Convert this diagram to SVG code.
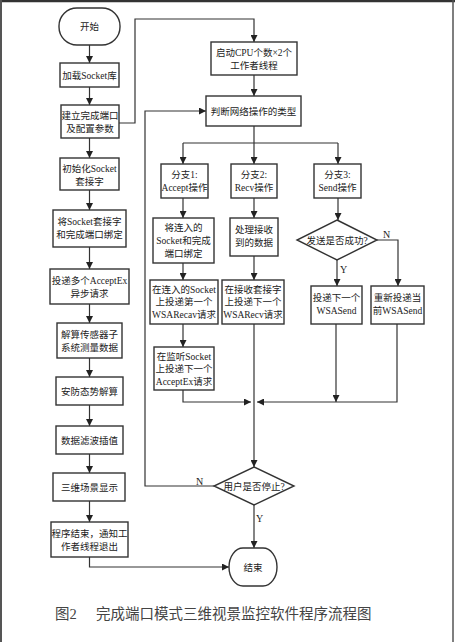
<svg xmlns="http://www.w3.org/2000/svg" width="455" height="642" viewBox="0 0 455 642">
<style>
.b{fill:#fff;stroke:#333;stroke-width:1.4}
.t{font-family:"Liberation Serif","Noto Sans CJK SC",serif;font-size:9.5px;fill:#222;text-anchor:middle}
.l{fill:none;stroke:#333;stroke-width:1.2}
.lb{font-family:"Liberation Serif","Noto Sans CJK SC",serif;font-size:10px;fill:#222}
.cap{font-family:"Liberation Serif","Noto Sans CJK SC",serif;font-size:14.5px;fill:#444}
</style>
<defs>
<marker id="ar" viewBox="0 0 8 8" refX="8" refY="4" markerWidth="7" markerHeight="7" markerUnits="userSpaceOnUse" orient="auto">
<path d="M0,0 L8,4 L0,8 z" fill="#222"/>
</marker>
</defs>
<rect x="0" y="0" width="455" height="642" fill="#fff"/>
<g id="frame">
<line x1="0" y1="1" x2="455" y2="1" stroke="#333" stroke-width="2.5"/>
<line x1="1" y1="0" x2="1" y2="642" stroke="#555" stroke-width="2"/>
<line x1="453" y1="0" x2="453" y2="642" stroke="#555" stroke-width="1.5"/>
</g>
<g id="connectors">
<path class="l" marker-end="url(#ar)" d="M89.5,45 V63"/>
<path class="l" marker-end="url(#ar)" d="M89.5,87 V105"/>
<path class="l" marker-end="url(#ar)" d="M89.5,138 V158"/>
<path class="l" marker-end="url(#ar)" d="M89.5,190 V210"/>
<path class="l" marker-end="url(#ar)" d="M89.5,247 V269"/>
<path class="l" marker-end="url(#ar)" d="M89.5,304 V323"/>
<path class="l" marker-end="url(#ar)" d="M89.5,358 V377"/>
<path class="l" marker-end="url(#ar)" d="M89.5,405 V426"/>
<path class="l" marker-end="url(#ar)" d="M89.5,454 V473"/>
<path class="l" marker-end="url(#ar)" d="M89.5,501 V522"/>
<path class="l" marker-end="url(#ar)" d="M89.5,557 V567 H229"/>
<path class="l" marker-end="url(#ar)" d="M119,123 H135 V19 H254 V42"/>
<path class="l" marker-end="url(#ar)" d="M254,75 V96"/>
<path class="l" d="M254,126 V143 M183,143 H338"/>
<path class="l" marker-end="url(#ar)" d="M183,143 V164"/>
<path class="l" marker-end="url(#ar)" d="M254,143 V164"/>
<path class="l" marker-end="url(#ar)" d="M338,143 V164"/>
<path class="l" marker-end="url(#ar)" d="M183,198 V218"/>
<path class="l" marker-end="url(#ar)" d="M183,263 V280"/>
<path class="l" marker-end="url(#ar)" d="M183,324 V347"/>
<path class="l" marker-end="url(#ar)" d="M183,390 V402 H251"/>
<path class="l" marker-end="url(#ar)" d="M254,198 V218"/>
<path class="l" marker-end="url(#ar)" d="M254,256 V280"/>
<path class="l" marker-end="url(#ar)" d="M254,324 V467"/>
<path class="l" marker-end="url(#ar)" d="M338,198 V220"/>
<path class="l" marker-end="url(#ar)" d="M337,260 V286"/>
<path class="l" marker-end="url(#ar)" d="M377,240 H398 V286"/>
<path class="l" marker-end="url(#ar)" d="M336,324 V402"/>
<path class="l" marker-end="url(#ar)" d="M397,324 V402 H257"/>
<path class="l" marker-end="url(#ar)" d="M214,486 H145 V111 H206"/>
<path class="l" marker-end="url(#ar)" d="M254,505 V548"/>
<text class="lb" x="383" y="238">N</text>
<text class="lb" x="340" y="273">Y</text>
<text class="lb" x="196" y="485">N</text>
<text class="lb" x="256" y="522">Y</text>
</g>
<g id="start">
<rect class="b" x="59" y="8" width="61" height="37" rx="18" ry="18"/>
<text class="t" x="89.5" y="30">开始</text>
</g>
<g id="n_load">
<rect class="b" x="60" y="63" width="59" height="24"/>
<text class="t" x="89.5" y="78.5">加载Socket库</text>
</g>
<g id="n_create">
<rect class="b" x="61" y="105" width="58" height="33"/>
<text class="t" x="90" y="119">建立完成端口</text>
<text class="t" x="90" y="132">及配置参数</text>
</g>
<g id="n_init">
<rect class="b" x="60" y="158" width="59" height="32"/>
<text class="t" x="89.5" y="172">初始化Socket</text>
<text class="t" x="89.5" y="185">套接字</text>
</g>
<g id="n_bind">
<rect class="b" x="53" y="210" width="73" height="37"/>
<text class="t" x="89.5" y="225">将Socket套接字</text>
<text class="t" x="89.5" y="238">和完成端口绑定</text>
</g>
<g id="n_post">
<rect class="b" x="50" y="269" width="79" height="35"/>
<text class="t" x="89.5" y="284">投递多个AcceptEx</text>
<text class="t" x="89.5" y="297">异步请求</text>
</g>
<g id="n_solve">
<rect class="b" x="57" y="323" width="65" height="35"/>
<text class="t" x="89.5" y="338">解算传感器子</text>
<text class="t" x="89.5" y="351">系统测量数据</text>
</g>
<g id="n_sec">
<rect class="b" x="56" y="377" width="67" height="28"/>
<text class="t" x="89.5" y="394.5">安防态势解算</text>
</g>
<g id="n_filter">
<rect class="b" x="56" y="426" width="67" height="28"/>
<text class="t" x="89.5" y="443.5">数据滤波插值</text>
</g>
<g id="n_3d">
<rect class="b" x="53" y="473" width="72" height="28"/>
<text class="t" x="89.5" y="490.5">三维场景显示</text>
</g>
<g id="n_endprog">
<rect class="b" x="51" y="522" width="77" height="35"/>
<text class="t" x="89.5" y="536.5">程序结束，通知工</text>
<text class="t" x="89.5" y="549.5">作者线程退出</text>
</g>
<g id="n_threads">
<rect class="b" x="211" y="42" width="86" height="33"/>
<text class="t" x="254" y="56">启动CPU个数×2个</text>
<text class="t" x="254" y="69">工作者线程</text>
</g>
<g id="n_judge">
<rect class="b" x="206" y="96" width="95" height="30"/>
<text class="t" x="253.5" y="114.5">判断网络操作的类型</text>
</g>
<g id="n_b1">
<rect class="b" x="161" y="164" width="47" height="34"/>
<text class="t" x="184.5" y="178">分支1:</text>
<text class="t" x="184.5" y="191">Accept操作</text>
</g>
<g id="n_b2">
<rect class="b" x="231" y="164" width="46" height="34"/>
<text class="t" x="254" y="178">分支2:</text>
<text class="t" x="254" y="191">Recv操作</text>
</g>
<g id="n_b3">
<rect class="b" x="314" y="164" width="47" height="34"/>
<text class="t" x="337.5" y="178">分支3:</text>
<text class="t" x="337.5" y="191">Send操作</text>
</g>
<g id="n_a1">
<rect class="b" x="153" y="218" width="61" height="45"/>
<text class="t" x="183.5" y="231">将连入的</text>
<text class="t" x="183.5" y="244">Socket和完成</text>
<text class="t" x="183.5" y="257">端口绑定</text>
</g>
<g id="n_r1">
<rect class="b" x="230" y="218" width="48" height="38"/>
<text class="t" x="254" y="233">处理接收</text>
<text class="t" x="254" y="246">到的数据</text>
</g>
<g id="d_send">
<polygon class="b" points="337,220 377,240 337,260 297,240"/>
<text class="t" x="337" y="243.5">发送是否成功?</text>
</g>
<g id="n_a2">
<rect class="b" x="150" y="280" width="68" height="44"/>
<text class="t" x="184" y="293">在连入的Socket</text>
<text class="t" x="184" y="305">上投递第一个</text>
<text class="t" x="184" y="318">WSARecav请求</text>
</g>
<g id="n_r2">
<rect class="b" x="222" y="280" width="62" height="44"/>
<text class="t" x="253" y="293">在接收套接字</text>
<text class="t" x="253" y="305">上投递下一个</text>
<text class="t" x="253" y="318">WSARecv请求</text>
</g>
<g id="n_s1">
<rect class="b" x="311" y="286" width="51" height="38"/>
<text class="t" x="336.5" y="301">投递下一个</text>
<text class="t" x="336.5" y="314">WSASend</text>
</g>
<g id="n_s2">
<rect class="b" x="371" y="286" width="53" height="38"/>
<text class="t" x="397.5" y="301">重新投递当</text>
<text class="t" x="397.5" y="314">前WSASend</text>
</g>
<g id="n_a3">
<rect class="b" x="154" y="347" width="60" height="43"/>
<text class="t" x="184" y="360">在监听Socket</text>
<text class="t" x="184" y="372">上投递下一个</text>
<text class="t" x="184" y="385">AcceptEx请求</text>
</g>
<g id="d_stop">
<polygon class="b" points="254,467 294,486 254,505 214,486"/>
<text class="t" x="254" y="489.5">用户是否停止?</text>
</g>
<g id="end">
<rect class="b" x="229" y="548" width="48" height="38" rx="14" ry="19"/>
<text class="t" x="253" y="570.5">结束</text>
</g>
<g id="caption">
<text class="cap" x="55" y="619">图2</text>
<text class="cap" x="96" y="619">完成端口模式三维视景监控软件程序流程图</text>
</g>
</svg>
